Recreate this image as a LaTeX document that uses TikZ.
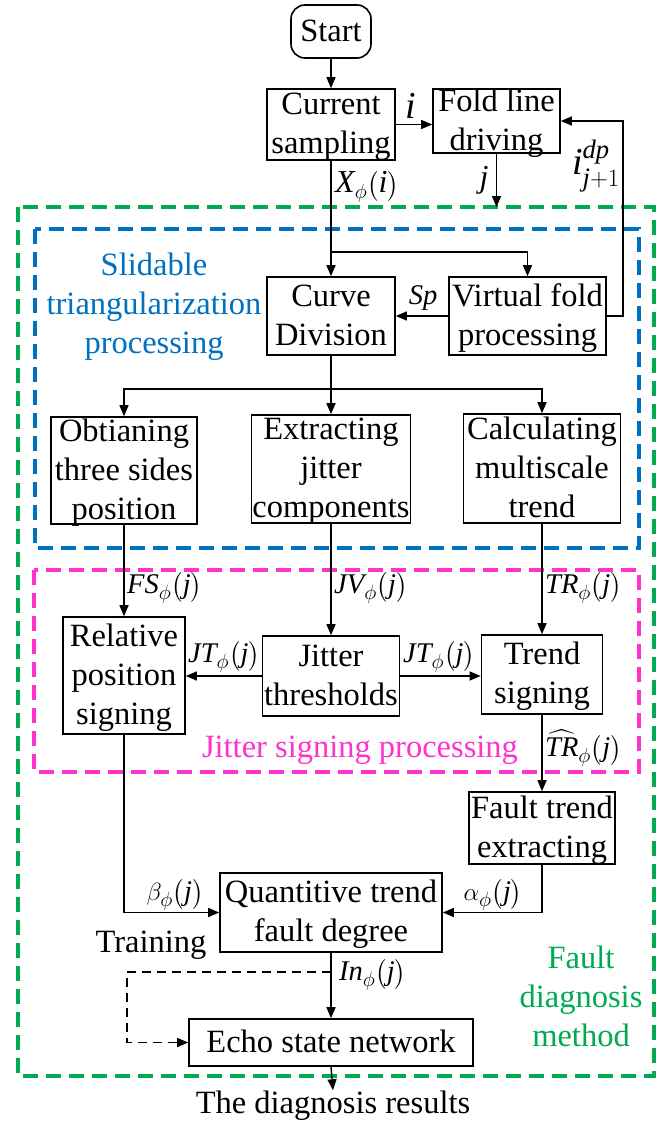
\documentclass[tikz,border=0pt]{standalone}
\usepackage{amsmath}
\usepackage{fontspec}
\setmainfont{Liberation Serif}
\newfontfamily\tms{Liberation Serif}
\usetikzlibrary{arrows.meta}
\definecolor{grn}{RGB}{0,170,80}
\definecolor{blu}{RGB}{0,112,192}
\definecolor{pnk}{RGB}{255,51,204}
\newcommand\fs{\tms\fontsize{32.5}{39}\selectfont}
\newcommand\fl{\tms\fontsize{28.5}{34}\selectfont}
\newcommand\flb{\tms\fontsize{32}{38}\selectfont}
\newcommand\bt[1]{\smash{\raisebox{-0.25em}{\begin{tabular}{@{}c@{}}#1\end{tabular}}}}
\newcommand\mi[1]{\text{\tms\itshape #1}}
\newcommand\pj{\bigl(\mi{j}\bigr)}
\tikzset{
  box/.style={draw, line width=1.6pt, inner sep=0pt, font=\fs},
  arr/.style={line width=1.4pt, -{Triangle[length=11pt,width=9pt]}},
  ln/.style={line width=1.4pt},
  region/.style={line width=3.5pt, dash pattern=on 15pt off 8pt},
  lab/.style={inner sep=0pt, font=\fl},
  labb/.style={inner sep=0pt, font=\flb},
  rtext/.style={inner sep=0pt, font=\fs}
}
\begin{document}
\begin{tikzpicture}[x=1pt,y=-1pt]
\useasboundingbox (0,0) rectangle (669,1121);
% regions
\draw[region, grn] (18,207) rectangle (654,1076);
\draw[region, blu] (35,229) rectangle (639,548);
\draw[region, pnk] (34,570) rectangle (639,772);
\node[rtext, text=blu] (t1) at (154,305) {\bt{Slidable\\triangularization\\processing}};
\node[rtext, text=pnk] (t2) at (360,748) {\bt{Jitter signing processing}};
\node[rtext, text=grn] (t3) at (581,998) {\bt{Fault\\diagnosis\\method}};
% boxes
\node[box, rounded corners=14pt, minimum width=80pt, minimum height=53pt] (start) at (331,31.5) {\bt{Start}};
\node[box, minimum width=128pt, minimum height=71pt] (cur) at (331,124.5) {\bt{Current\\sampling}};
\node[box, minimum width=127pt, minimum height=64pt] (fold) at (496.5,121) {\bt{Fold line\\driving}};
\node[box, minimum width=128pt, minimum height=78pt] (curve) at (331,316) {\bt{Curve\\Division}};
\node[box, minimum width=157pt, minimum height=78pt] (virt) at (527.5,316) {\bt{Virtual fold\\processing}};
\node[box, minimum width=146pt, minimum height=107pt] (obt) at (124,470.5) {\bt{Obtianing\\three sides\\position}};
\node[box, minimum width=159pt, minimum height=108pt] (ext) at (331,469) {\bt{Extracting\\jitter\\components}};
\node[box, minimum width=157pt, minimum height=109pt] (calc) at (542,468.5) {\bt{Calculating\\multiscale\\trend}};
\node[box, minimum width=122pt, minimum height=117pt] (rel) at (124,675.5) {\bt{Relative\\position\\signing}};
\node[box, minimum width=137pt, minimum height=80pt] (jit) at (331,676) {\bt{Jitter\\thresholds}};
\node[box, minimum width=121pt, minimum height=79pt] (trend) at (542,674.5) {\bt{Trend\\signing}};
\node[box, minimum width=146pt, minimum height=72pt] (fte) at (542,828) {\bt{Fault trend\\extracting}};
\node[box, minimum width=222pt, minimum height=79pt] (quant) at (331,912.5) {\bt{Quantitive trend\\fault degree}};
\node[box, minimum width=284pt, minimum height=47pt] (echo) at (331,1042.5) {\bt{Echo state network}};
\node[rtext, anchor=base] (res) at (333,1113) {The diagnosis results};
% coordinates
\coordinate (fb) at (623,0);
\coordinate (jend) at (496.5,207);
\coordinate (br1) at (331,252);
\coordinate (br2) at (331,389);
\coordinate (tr1) at (331,972);
\coordinate (tr2) at (127,972);
% connectors
\draw[arr] (start) -- (cur);
\draw[arr] (cur.east) -- (cur.east -| fold.west);
\draw[arr] (virt.east) -- (virt.east -| fb) -- (fold.east -| fb) -- (fold.east);
\draw[arr] (fold.south) -- (jend);
\draw[arr] (cur.south) -- (curve.north);
\draw[arr] (br1) -| (virt.north);
\draw[arr] (virt.west) -- (curve.east);
\draw[ln] (curve.south) -- (br2);
\draw[arr] (br2) -| (obt.north);
\draw[arr] (br2) -| (calc.north);
\draw[arr] (br2) -- (ext.north);
\draw[arr] (obt.south) -- (rel.north);
\draw[arr] (ext.south) -- (jit.north);
\draw[arr] (calc.south) -- (trend.north);
\draw[arr] (jit.west) -- (jit.west -| rel.east);
\draw[arr] (jit.east) -- (jit.east -| trend.west);
\draw[arr] (trend.south) -- (fte.north);
\draw[arr] (rel.south) |- (quant.west);
\draw[arr] (fte.south) |- (quant.east);
\draw[arr] (quant.south) -- (echo.north);
\draw[arr, dash pattern=on 9pt off 6pt] (tr1) -- (tr2) |- (echo.west);
\draw[arr] (echo.south) -- (res.north);
% labels
\node[labb, font=\tms\fontsize{38}{44}\selectfont] (li) at (411,106) {$\mi{i}$};
\node[labb, anchor=west] (lx) at (335,187) {$\mi{X}_{\phi}\bigl(\mi{i}\bigr)$};
\node[labb] (lj) at (484,180) {$\mi{j}$};
\node[labb, font=\tms\fontsize{38}{44}\selectfont] (lidp) at (596,166) {$\mi{i}^{\mi{dp}}_{\mi{j}+1}$};
\node[lab] (lsp) at (423,298) {$\mi{Sp}$};
\node[lab, anchor=west] (lfs) at (127,588) {$\mi{FS}_{\phi}\pj$};
\node[lab, anchor=west] (ljv) at (334,588) {$\mi{JV}_{\phi}\pj$};
\node[lab, anchor=west] (ltr) at (545,588) {$\mi{TR}_{\phi}\pj$};
\node[lab] (ljt1) at (224,657) {$\mi{JT}_{\phi}\pj$};
\node[lab] (ljt2) at (439,657) {$\mi{JT}_{\phi}\pj$};
\node[lab, anchor=west] (ltrh) at (545,748) {$\widehat{\mi{TR}}_{\phi}\pj$};
\node[lab] (lb) at (175,895) {$\beta_{\phi}\pj$};
\node[lab] (la) at (493,895) {$\alpha_{\phi}\pj$};
\node[lab, anchor=west] (lin) at (339,975) {$\mi{In}_{\phi}\pj$};
\node[rtext] (ltrain) at (151,945) {Training};
\end{tikzpicture}
\end{document}
